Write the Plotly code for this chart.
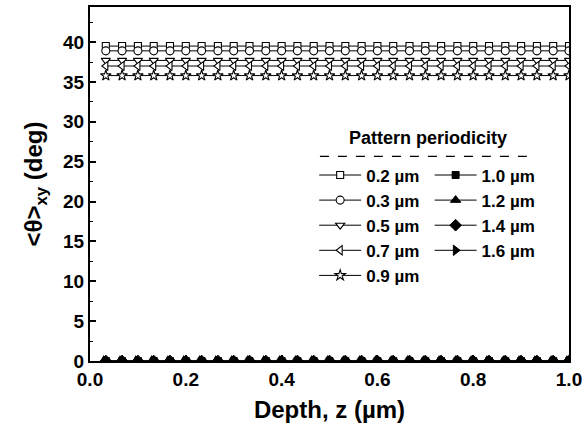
import plotly.graph_objects as go

# Depth grid (µm)
depth = [0.033, 0.067, 0.100, 0.133, 0.167, 0.200, 0.233, 0.267, 0.300, 0.333,
         0.367, 0.400, 0.433, 0.467, 0.500, 0.533, 0.567, 0.600, 0.633, 0.667,
         0.700, 0.733, 0.767, 0.800, 0.833, 0.867, 0.900, 0.933, 0.967, 1.000]

# Mean in-plane tilt angle <θ>_xy (deg) for each pattern periodicity
theta_02 = [39.5, 39.5, 39.5, 39.5, 39.5, 39.5, 39.5, 39.5, 39.5, 39.5,
            39.5, 39.5, 39.5, 39.5, 39.5, 39.5, 39.5, 39.5, 39.5, 39.5,
            39.5, 39.5, 39.5, 39.5, 39.5, 39.5, 39.5, 39.5, 39.5, 39.5]
theta_03 = [38.9, 38.9, 38.9, 38.9, 38.9, 38.9, 38.9, 38.9, 38.9, 38.9,
            38.9, 38.9, 38.9, 38.9, 38.9, 38.9, 38.9, 38.9, 38.9, 38.9,
            38.9, 38.9, 38.9, 38.9, 38.9, 38.9, 38.9, 38.9, 38.9, 38.9]
theta_05 = [37.7, 37.7, 37.7, 37.7, 37.7, 37.7, 37.7, 37.7, 37.7, 37.7,
            37.7, 37.7, 37.7, 37.7, 37.7, 37.7, 37.7, 37.7, 37.7, 37.7,
            37.7, 37.7, 37.7, 37.7, 37.7, 37.7, 37.7, 37.7, 37.7, 37.7]
theta_07 = [37.0, 37.0, 37.0, 37.0, 37.0, 37.0, 37.0, 37.0, 37.0, 37.0,
            37.0, 37.0, 37.0, 37.0, 37.0, 37.0, 37.0, 37.0, 37.0, 37.0,
            37.0, 37.0, 37.0, 37.0, 37.0, 37.0, 37.0, 37.0, 37.0, 37.0]
theta_09 = [35.8, 35.8, 35.8, 35.8, 35.8, 35.8, 35.8, 35.8, 35.8, 35.8,
            35.8, 35.8, 35.8, 35.8, 35.8, 35.8, 35.8, 35.8, 35.8, 35.8,
            35.8, 35.8, 35.8, 35.8, 35.8, 35.8, 35.8, 35.8, 35.8, 35.8]
theta_10 = [0.0, 0.0, 0.0, 0.0, 0.0, 0.0, 0.0, 0.0, 0.0, 0.0,
            0.0, 0.0, 0.0, 0.0, 0.0, 0.0, 0.0, 0.0, 0.0, 0.0,
            0.0, 0.0, 0.0, 0.0, 0.0, 0.0, 0.0, 0.0, 0.0, 0.0]
theta_12 = [0.0, 0.0, 0.0, 0.0, 0.0, 0.0, 0.0, 0.0, 0.0, 0.0,
            0.0, 0.0, 0.0, 0.0, 0.0, 0.0, 0.0, 0.0, 0.0, 0.0,
            0.0, 0.0, 0.0, 0.0, 0.0, 0.0, 0.0, 0.0, 0.0, 0.0]
theta_14 = [0.0, 0.0, 0.0, 0.0, 0.0, 0.0, 0.0, 0.0, 0.0, 0.0,
            0.0, 0.0, 0.0, 0.0, 0.0, 0.0, 0.0, 0.0, 0.0, 0.0,
            0.0, 0.0, 0.0, 0.0, 0.0, 0.0, 0.0, 0.0, 0.0, 0.0]
theta_16 = [0.0, 0.0, 0.0, 0.0, 0.0, 0.0, 0.0, 0.0, 0.0, 0.0,
            0.0, 0.0, 0.0, 0.0, 0.0, 0.0, 0.0, 0.0, 0.0, 0.0,
            0.0, 0.0, 0.0, 0.0, 0.0, 0.0, 0.0, 0.0, 0.0, 0.0]

labels_small = ["0.2 µm", "0.3 µm", "0.5 µm", "0.7 µm", "0.9 µm"]
labels_large = ["1.0 µm", "1.2 µm", "1.4 µm", "1.6 µm"]

x_ticks = [0.0, 0.2, 0.4, 0.6, 0.8, 1.0]
x_ticklabels = ["0.0", "0.2", "0.4", "0.6", "0.8", "1.0"]
y_ticks = [0, 5, 10, 15, 20, 25, 30, 35, 40]

FONT = "Liberation Sans, Arial, Helvetica, sans-serif"

open_series = [
    (theta_02, labels_small[0], "square", 7),
    (theta_03, labels_small[1], "circle", 8),
    (theta_05, labels_small[2], "triangle-down", 8),
    (theta_07, labels_small[3], "triangle-left", 8),
    (theta_09, labels_small[4], "star", 8),
]
filled_series = [
    (theta_10, labels_large[0], "square", 7),
    (theta_12, labels_large[1], "triangle-up", 9),
    (theta_14, labels_large[2], "diamond", 9),
    (theta_16, labels_large[3], "triangle-right", 9),
]

fig = go.Figure()
for vals, name, sym, size in open_series:
    fig.add_trace(go.Scatter(
        x=depth, y=vals, name=name, mode="lines+markers",
        line=dict(color="black", width=1),
        marker=dict(symbol=sym, size=size, color="white",
                    line=dict(color="black", width=1.1)),
        legend="legend",
    ))
for vals, name, sym, size in filled_series:
    fig.add_trace(go.Scatter(
        x=depth, y=vals, name=name, mode="lines+markers",
        line=dict(color="black", width=1),
        marker=dict(symbol=sym, size=size, color="black",
                    line=dict(color="black", width=1)),
        legend="legend2",
    ))

legend_style = dict(
    bgcolor="rgba(0,0,0,0)", borderwidth=0,
    font=dict(family=FONT, size=17, color="black", weight="bold"),
    itemwidth=42, tracegroupgap=0,
    xanchor="left", yanchor="top",
)

fig.update_layout(
    width=587, height=436,
    margin=dict(l=90, r=16, t=5, b=75),
    paper_bgcolor="white", plot_bgcolor="white",
    font=dict(family=FONT, color="black"),
    legend=dict(x=0.468, y=0.575, **legend_style),
    legend2=dict(x=0.709, y=0.575, **legend_style),
    xaxis=dict(
        range=[0, 1.0], tickvals=x_ticks, ticktext=x_ticklabels,
        ticks="inside", ticklen=6, tickwidth=1.5, tickcolor="black",
        minor=dict(ticks="inside", ticklen=3, tickwidth=1.2, dtick=0.1, tickcolor="black"),
        showline=True, linewidth=2, linecolor="black", mirror=True,
        showgrid=False, zeroline=False,
        tickfont=dict(family=FONT, size=19, weight="bold"),
        title=dict(text="Depth, z (µm)", standoff=12,
                   font=dict(family=FONT, size=24, weight="bold")),
    ),
    yaxis=dict(
        range=[0, 44.4], tickvals=y_ticks,
        ticks="inside", ticklen=6, tickwidth=1.5, tickcolor="black",
        minor=dict(ticks="inside", ticklen=3, tickwidth=1.2, dtick=2.5, tickcolor="black"),
        showline=True, linewidth=2, linecolor="black", mirror=True,
        showgrid=False, zeroline=False,
        tickfont=dict(family=FONT, size=19, weight="bold"),
        title=dict(text="<θ><sub>xy</sub> (deg)", standoff=14,
                   font=dict(family=FONT, size=24, weight="bold")),
    ),
    annotations=[dict(
        text="Pattern periodicity", xref="paper", yref="paper",
        x=0.705, y=0.63, xanchor="center", yanchor="middle", showarrow=False,
        font=dict(family=FONT, size=18, weight="bold", color="black"),
    )],
    shapes=[dict(
        type="line", xref="paper", yref="paper",
        x0=0.48, x1=0.915, y0=0.578, y1=0.578,
        line=dict(color="black", width=1.2, dash="dash"),
    )],
)

fig.write_html("out.html")
